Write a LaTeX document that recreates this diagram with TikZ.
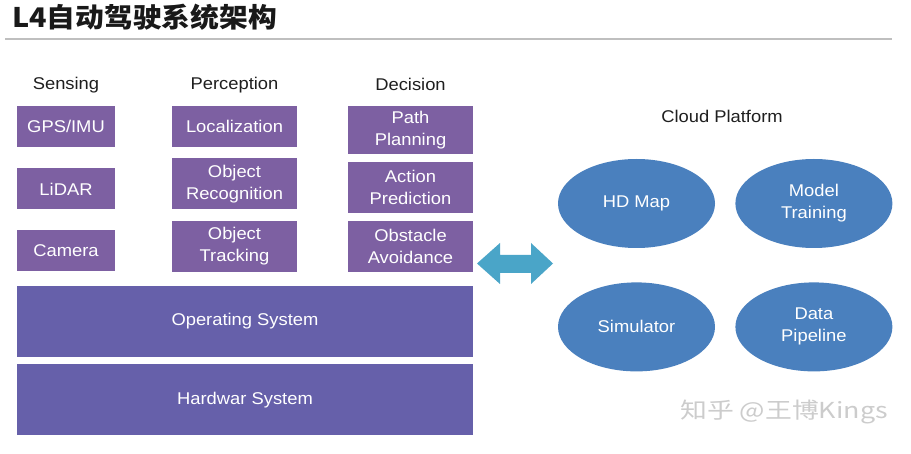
\documentclass[tikz,border=0pt]{standalone}
\usepackage{fontspec}
\setmainfont{Liberation Sans}[FakeStretch=1.08]
\newfontfamily\cjk{Noto Sans CJK SC}[FakeStretch=1.22]
\newfontfamily\cjktitle{Noto Sans CJK SC}[FakeStretch=1.065]
\usepackage{tikz}
\usetikzlibrary{
  shapes.geometric,
  positioning
}
\definecolor{BoxPurple}{RGB}{125, 96, 162}
\definecolor{BasePurple}{RGB}{102, 96, 170}
\definecolor{CloudBlue}{RGB}{74, 128, 190}
\definecolor{LinkTeal}{RGB}{74, 165, 200}

\begin{document}
\begin{tikzpicture}[
        x=1pt, y=-1pt,
        node distance=11pt and 20pt,
        every node/.style={font=\fontsize{17}{22}\selectfont},
        head/.style={text=black!88},
        box/.style={rectangle, fill=BoxPurple, text=white, inner sep=0pt, align=center, minimum height=41pt},
        sensebox/.style={box, minimum width=98pt},
        taskbox/.style={box, minimum width=125pt},
        layer/.style={box, fill=BasePurple, minimum width=456pt, minimum height=71pt},
        cloud/.style={ellipse, fill=CloudBlue, text=white, inner sep=0pt, align=center, minimum width=157pt, minimum height=89pt}
    ]
    \fill[white] (0,0) rectangle (911,454);
    \useasboundingbox (0,0) rectangle (911,454);

    % Title
    \node[anchor=base west, inner sep=0pt, text=black!90, font=\cjktitle\bfseries\fontsize{27}{27}\selectfont] (title) at (12,28) {L4自动驾驶系统架构};
    \coordinate (ruleL) at (5,39);
    \coordinate (ruleR) at (892,39);
    \draw[black!25, line width=1.5pt] (ruleL) -- (ruleR);

    % Nodes
    \node[head] (sensing) at (66,85) {Sensing};
    \node[sensebox] (gps) at (66,126.5) {GPS/IMU};
    \node[sensebox, below=21pt of gps] (lidar) {LiDAR};
    \node[sensebox, below=20pt of lidar] (camera) {Camera};

    \node[head] (perception) at (234.5,85) {Perception};
    \node[taskbox] (local) at (234.5,126.5) {Localization};
    \node[taskbox, minimum height=51pt, below=of local] (recog) {Object\\Recognition};
    \node[taskbox, minimum height=51pt, below=of recog] (track) {Object\\Tracking};

    \node[head] (decision) at (410.5,84) {Decision};
    \node[taskbox, minimum height=48pt] (path) at (410.5,130) {Path\\Planning};
    \node[taskbox, minimum height=51pt, below=8pt of path] (action) {Action\\Prediction};
    \node[taskbox, minimum height=51pt, below=7pt of action] (obstacle) {Obstacle\\Avoidance};

    \node[layer] (os) at (245,321.5) {Operating System};
    \node[layer, below=7pt of os] (hw) {Hardwar System};

    \node[head] (cloudtitle) at (722,116) {Cloud Platform};
    \node[cloud] (hdmap) at (636.5,203.5) {HD Map};
    \node[cloud, right=of hdmap] (training) {Model\\Training};
    \node[cloud, below=34pt of hdmap] (sim) {Simulator};
    \node[cloud, right=of sim] (pipeline) {Data\\Pipeline};

    % Arrows
    \coordinate (linkL) at (477,263.5);
    \coordinate (linkR) at (553,263.5);
    \fill[LinkTeal] (linkL) -- ++(23,-20.5) -- ++(0,12) -- ++(31,0) -- ++(0,-12)
        -- (linkR) -- ++(-22,20.5) -- ++(0,-11) -- ++(-31,0) -- ++(0,11) -- cycle;

    % Label
    \node[anchor=west, inner sep=0pt, text=black!20, font=\cjk\fontsize{22}{22}\selectfont] (mark) at (680,412) {知乎 @王博Kings};
\end{tikzpicture}
\end{document}
